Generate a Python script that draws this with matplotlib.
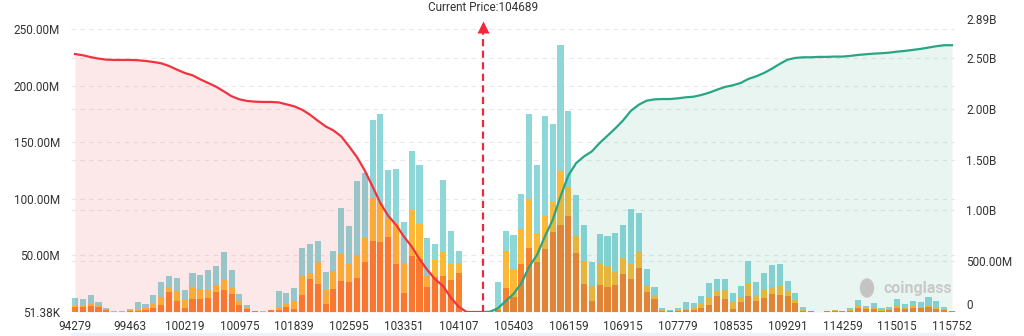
import numpy as np
import matplotlib
matplotlib.use("Agg")
import matplotlib.pyplot as plt
from matplotlib.patches import Rectangle, Ellipse

plt.rcParams['font.family'] = ['Roboto', 'DejaVu Sans']

# ---- data (bars in M, cumulative lines in B) ----
tick_labels = ["94279", "99463", "100219", "100975", "101839", "102595", "103351", "104107",
               "105403", "106159", "106915", "107779", "108535", "109291", "114259", "115015", "115752"]
tick_every = 7
current_price = 104689

orange = [4.3, 4.3, 5.0, 4.8, 2.1, 0.1, 0.3, 0.6, 0.8, 1.8, 3.2, 5.9, 17.4, 10.0, 3.3, 11.8, 11.2, 12.7, 17.4, 19.5,
          16.2, 6.5, 2.7, 0.8, 0.1, 1.6, 1.8, 4.4, 2.6, 15.3, 29.2, 25.0, 7.4, 20.4, 27.4, 26.5, 30.1, 44.0, 62.5, 62.0,
          66.4, 42.2, 16.5, 49.8, 47.2, 22.4, 31.3, 32.2, 28.6, 34.8, 0, 0, 0, 0.3, 2.0, 21.2, 13.6, 42.2, 56.4, 44.0,
          55.5, 71.1, 77.0, 85.2, 52.5, 24.8, 9.7, 23.9, 22.4, 23.9, 33.4, 29.2, 38.7, 18.0, 11.5, 1.0, 0.9, 0.9, 1.5, 1.8,
          3.2, 5.9, 14.2, 11.2, 2.9, 9.1, 14.5, 10.0, 12.7, 15.6, 15.3, 14.5, 7.7, 1.2, 0.5, 0.0, 0.7, 0.8, 0.6, 0.9,
          3.2, 2.7, 2.9, 1.2, 1.8, 3.5, 2.9, 3.5, 3.2, 4.4, 2.9, 1.8, 1.2]
yellow = [1.7, 1.6, 2.4, 1.4, 0.9, 0.1, 0.1, 0.9, 1.0, 2.0, 4.2, 7.1, 4.7, 8.3, 7.6, 10.0, 8.9, 6.5, 6.8, 8.5,
          4.8, 3.0, 1.1, 0.4, 0.1, 0.2, 2.6, 3.1, 7.1, 16.9, 5.0, 19.2, 12.1, 15.6, 23.9, 15.7, 20.6, 21.8, 38.1, 33.9,
          16.8, 36.3, 26.6, 40.2, 30.4, 9.8, 15.0, 20.6, 13.9, 8.6, 0, 0, 0, 0.2, 2.7, 32.8, 24.4, 31.0, 43.3, 25.6,
          29.7, 26.3, 47.8, 25.3, 15.0, 20.3, 13.3, 19.2, 18.6, 11.5, 14.1, 13.3, 14.7, 5.3, 2.8, 0.5, 0.3, 0.9, 1.4, 1.7,
          3.9, 7.1, 4.1, 8.0, 6.0, 4.2, 10.9, 4.8, 6.5, 6.2, 8.0, 4.1, 2.6, 0.9, 0.1, 0.0, 0.2, 0.6, 0.2, 1.2,
          2.7, 0.8, 1.2, 0.9, 0.9, 2.7, 0.9, 1.5, 1.5, 1.8, 1.8, 1.1, 0.0]
cyan = [6.7, 5.8, 7.6, 2.8, 0.8, 0.4, 0.2, 1.4, 7.3, 3.0, 7.6, 13.3, 9.8, 12.1, 8.6, 13.0, 12.6, 18.3, 16.5, 25.4,
        15.9, 6.4, 2.4, 0.0, 0.3, 0.0, 13.9, 9.3, 11.9, 24.1, 25.7, 18.3, 15.6, 18.0, 40.4, 33.6, 64.6, 57.2, 69.4, 79.3,
        41.8, 47.8, 36.8, 52.5, 51.9, 33.3, 13.6, 64.0, 28.9, 10.6, 0, 0, 0, 0.3, 21.6, 17.4, 30.4, 31.2, 74.9, 60.4,
        88.0, 69.0, 110.9, 67.0, 35.5, 31.9, 21.2, 25.9, 26.3, 34.2, 29.5, 48.4, 34.2, 14.5, 7.7, 2.0, 0.3, 1.7, 6.0, 4.2,
        6.8, 12.4, 10.9, 10.0, 7.6, 9.7, 19.7, 11.5, 15.0, 19.5, 19.5, 8.8, 6.5, 2.0, 0.0, 0.3, 0.0, 0.6, 0.1, 1.4,
        4.7, 1.8, 3.6, 1.1, 2.0, 5.3, 3.0, 4.5, 4.4, 7.4, 5.0, 1.8, 0.0]

# cumulative long liquidations (left of price), index 0..52
cum_long = [2.540, 2.528, 2.510, 2.495, 2.485, 2.482, 2.482, 2.482, 2.479, 2.472, 2.462, 2.449, 2.423, 2.387, 2.354,
            2.331, 2.291, 2.255, 2.219, 2.173, 2.124, 2.094, 2.078, 2.071, 2.068, 2.068, 2.064, 2.045, 2.025, 1.992,
            1.943, 1.884, 1.828, 1.788, 1.729, 1.630, 1.526, 1.394, 1.236, 1.072, 0.947, 0.858, 0.743, 0.644, 0.520,
            0.414, 0.322, 0.256, 0.141, 0.052, 0.0, 0.0, 0.0]
# cumulative short liquidations (right of price), index 52..112
cum_short = [0.0, 0.003, 0.036, 0.108, 0.178, 0.283, 0.447, 0.562, 0.743, 0.907, 1.137, 1.345, 1.466, 1.532, 1.581,
             1.664, 1.736, 1.808, 1.887, 1.982, 2.041, 2.081, 2.094, 2.097, 2.097, 2.104, 2.114, 2.120, 2.137, 2.160,
             2.189, 2.216, 2.232, 2.255, 2.295, 2.321, 2.354, 2.396, 2.443, 2.485, 2.502, 2.508, 2.508, 2.512, 2.512,
             2.515, 2.515, 2.522, 2.531, 2.538, 2.544, 2.548, 2.554, 2.564, 2.571, 2.581, 2.591, 2.604, 2.617, 2.627,
             2.627]

C_OR, C_YE, C_CY = '#f8812c', '#fcb935', '#8dd7d9'
C_RED, C_GRN = '#f0343f', '#28a584'

orange, yellow, cyan = map(np.array, (orange, yellow, cyan))
x = np.arange(len(orange))
xl = np.arange(len(cum_long))
xs = np.arange(len(orange) - len(cum_short), len(orange))

fig = plt.figure(figsize=(10.24, 3.36), dpi=100)
ax = fig.add_axes([71/1024, 24/336, 884/1024, 293.5/336])
ax2 = ax.twinx()

top1 = (orange + yellow + cyan).max() * 1.1
top2 = max(cum_short) * 1.1
ax.set_ylim(0, top1); ax2.set_ylim(0, top2)
ax.set_xlim(-0.51, 112.38)

# grid lines (both axes) behind bars
lticks = [0.05138, 50, 100, 150, 200, 250]
rticks = [0, 0.5, 1.0, 1.5, 2.0, 2.5, 2.89]
for v in lticks[1:]:
    ax.axhline(v, color='#e8e8e8', lw=0.8, ls=(0, (4, 4)), zorder=0)
for v in rticks[1:]:
    ax.axhline(v / top2 * top1, color='#e8e8e8', lw=0.8, ls=(0, (4, 4)), zorder=0)

w = 0.78
ax.bar(x, orange, w, color=C_OR, zorder=2)
ax.bar(x, yellow, w, bottom=orange, color=C_YE, zorder=2)
ax.bar(x, cyan, w, bottom=orange + yellow, color=C_CY, zorder=2)

# cumulative curves with area fill
ax2.fill_between(xl, cum_long, 0, color=C_RED, alpha=0.11, lw=0)
ax2.fill_between(xs, cum_short, 0, color=C_GRN, alpha=0.105, lw=0)
ax2.plot(xl, cum_long, color=C_RED, lw=1.6)
ax2.plot(xs, cum_short, color=C_GRN, lw=1.6)

# current price marker
i0 = tick_labels.index("104107") * tick_every
i1 = tick_labels.index("105403") * tick_every
px = i0 + (current_price - 104107) / (105403 - 104107) * (i1 - i0)
trans = ax2.get_xaxis_transform()
ax2.plot([px, px], [0, 0.955], transform=trans, color='#f0283c', lw=1.6, ls=(0, (3.2, 2)))
ax2.plot([px], [0.972], transform=trans, marker='^', ms=8, color='#f0283c', mec='none')
ax2.text(px, 1.036, f"Current Price:{current_price}", transform=trans, ha='center', va='center',
         fontsize=8.5, color='#333333')

# axes styling
for a in (ax, ax2):
    for s in a.spines.values():
        s.set_visible(False)
    a.tick_params(length=0, labelsize=8.5, labelcolor='#333333')
ax.set_yticks(lticks)
ax.set_yticklabels(["51.38K"] + [f"{v:.2f}M" for v in lticks[1:]])
ax2.set_yticks(rticks)
ax2.set_yticklabels(["0", "500.00M", "1.00B", "1.50B", "2.00B", "2.50B", "2.89B"])
ax.tick_params(axis='y', pad=8)
ax2.tick_params(axis='y', pad=8)
ax2.get_yticklabels()[0].set_va('bottom')
ax.set_xticks(np.arange(len(tick_labels)) * tick_every)
ax.set_xticklabels(tick_labels)
ax.tick_params(axis='x', pad=6)

# watermark and bottom strip
fig.text(918/1024, 1 - 288/336, "coinglass", ha='center', va='center', fontsize=11.5,
         fontweight='bold', color='#c9c9c9')
fig.patches.append(Ellipse((867/1024, 1 - 288/336), 13/1024, 18/336, transform=fig.transFigure,
                           color='#c4c4c4', zorder=5))
fig.patches.append(Rectangle((71/1024, 0), 884/1024, 3/336, transform=fig.transFigure,
                             color='#eef2fb', zorder=0))

fig.savefig("out.png", dpi=100)
